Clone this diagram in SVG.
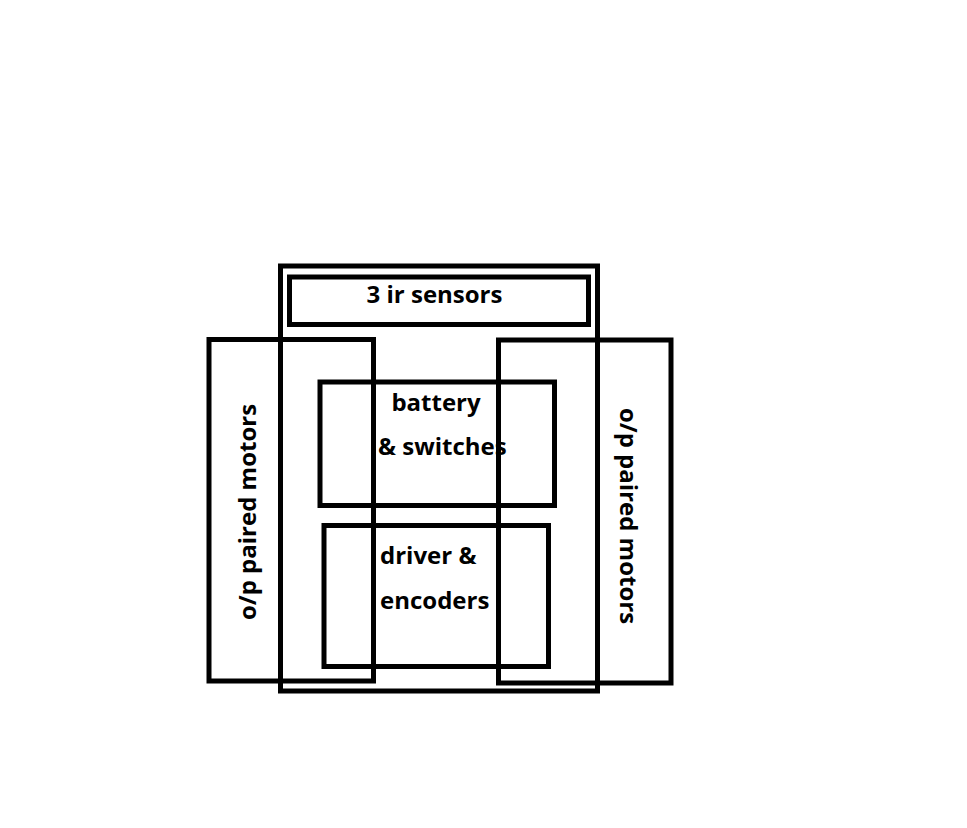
<svg xmlns="http://www.w3.org/2000/svg" width="967" height="828" viewBox="0 0 967 828">
<style>
rect.b{fill:none;stroke:#000;stroke-width:5}
text{font-family:"Open Sans","Noto Sans",sans-serif;font-weight:bold;font-size:24px;fill:#000}
</style>
<rect width="967" height="828" fill="#fff"/>
<g id="chassis"><rect class="b" x="280.5" y="266" width="317" height="425"/></g>
<g id="sensors"><rect class="b" x="289.5" y="277" width="299" height="47.5"/>
<text x="434.5" y="303" text-anchor="middle">3 ir sensors</text></g>
<g id="motor-left"><rect class="b" x="209" y="339.5" width="164.5" height="341.5"/>
<text transform="translate(256,512) rotate(-90)" text-anchor="middle">o/p paired motors</text></g>
<g id="motor-right"><rect class="b" x="498.5" y="340" width="172.5" height="343"/>
<text transform="translate(620,516) rotate(90)" text-anchor="middle">o/p paired motors</text></g>
<g id="battery"><rect class="b" x="320" y="382" width="234.5" height="123.5"/>
<text x="436" y="411" text-anchor="middle">battery</text>
<text x="378" y="455">&amp; switches</text></g>
<g id="driver"><rect class="b" x="324" y="525.5" width="224.5" height="141"/>
<text x="380" y="564">driver &amp;</text>
<text x="380" y="609">encoders</text></g>
<g id="connectors"></g>
</svg>
